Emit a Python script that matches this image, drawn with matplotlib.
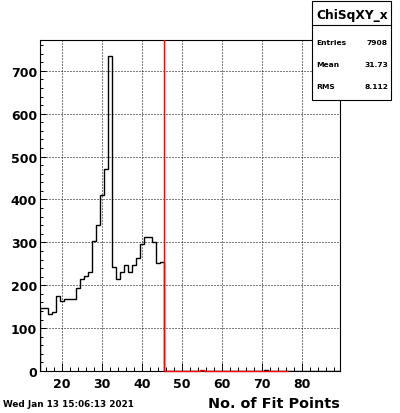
import numpy as np
import matplotlib.pyplot as plt
from matplotlib.patches import Rectangle
from matplotlib.lines import Line2D
from matplotlib.ticker import MultipleLocator

# histogram contents, bins of width 1 centred on integers
x_lo, x_hi = 14.5, 89.5
main_first_bin = 15
main_counts = [148, 147, 133, 137, 176, 164, 167, 169, 169, 194,
               215, 221, 232, 304, 340, 410, 470, 734, 242, 215,
               232, 247, 232, 247, 263, 296, 312, 312, 300, 253, 255]
main_tail = {71: 2}

cut_lo, cut_hi = 45.5, 76.5
cut_counts = {55: 3}

stats_title = "ChiSqXY_x"
stats_rows = [("Entries", "7908"), ("Mean", "31.73"), ("RMS", "8.112")]
date_text = "Wed Jan 13 15:06:13 2021"
x_title = "No. of Fit Points"

W, H = 400, 414


def fx(px):
    return px / W


def fy(py):
    return 1 - py / H


plt.rcParams['font.family'] = ['DejaVu Sans']

fig = plt.figure(figsize=(W / 100, H / 100), dpi=100)
ax = fig.add_axes([fx(40), fy(372), 300 / W, 331 / H])

edges = np.arange(x_lo, x_hi + 0.5, 1.0)
vals = np.zeros(len(edges) - 1)
for i, c in enumerate(main_counts):
    vals[main_first_bin + i - 15] = c
for b, c in main_tail.items():
    vals[b - 15] = c
ax.stairs(vals, edges, color='black', lw=1.0, zorder=3)

cut_edges = np.arange(cut_lo, cut_hi + 0.5, 1.0)
cut_vals = np.zeros(len(cut_edges) - 1)
for b, c in cut_counts.items():
    cut_vals[int(b - cut_lo - 0.5)] = c
ax.stairs(cut_vals, cut_edges, color='red', lw=1.0, zorder=4, clip_on=False)
ax.axvline(cut_lo, color='red', lw=1.0, zorder=4)

ax.set_xlim(x_lo, x_hi)
ax.set_ylim(0, 772)
ax.xaxis.set_major_locator(MultipleLocator(10))
ax.xaxis.set_minor_locator(MultipleLocator(2))
ax.yaxis.set_major_locator(MultipleLocator(100))
ax.yaxis.set_minor_locator(MultipleLocator(20))
ax.grid(True, which='major', color='black', lw=0.72, linestyle=(0, (1, 2)))
ax.set_axisbelow(True)

ax.tick_params(axis='x', which='major', direction='in', length=5.8, width=0.72, pad=4)
ax.tick_params(axis='x', which='minor', direction='in', length=2.9, width=0.72)
ax.tick_params(axis='y', which='major', direction='in', length=4.3, width=0.72, pad=2.2)
ax.tick_params(axis='y', which='minor', direction='in', length=2.2, width=0.72)
for lab in ax.get_xticklabels() + ax.get_yticklabels():
    lab.set_fontweight('bold')
    lab.set_fontsize(9)
for sp in ax.spines.values():
    sp.set_linewidth(0.8)

# stats box
box = Rectangle((fx(312), fy(101)), fx(391) - fx(312), fy(2) - fy(101),
                transform=fig.transFigure, facecolor='white', edgecolor='black',
                lw=0.8, zorder=10)
fig.add_artist(box)
fig.add_artist(Line2D([fx(312), fx(391)], [fy(26), fy(26)], transform=fig.transFigure,
                      color='black', lw=0.8, zorder=11))
fig.text(fx(352), fy(15), stats_title, ha='center', va='center',
         fontsize=8.8, fontweight='bold', zorder=12)
for k, (name, val) in enumerate(stats_rows):
    yy = fy(42.7 + 22.3 * k)
    fig.text(fx(316), yy, name, ha='left', va='center', fontsize=5.4,
             fontweight='bold', zorder=12)
    fig.text(fx(388), yy, val, ha='right', va='center', fontsize=5.4,
             fontweight='bold', zorder=12)

fig.text(fx(340), fy(404), x_title, ha='right', va='center',
         fontsize=10.4, fontweight='bold')
fig.text(fx(3), fy(405), date_text, ha='left', va='center',
         fontsize=6.4, fontweight='bold')

fig.savefig('out.png', dpi=100)
